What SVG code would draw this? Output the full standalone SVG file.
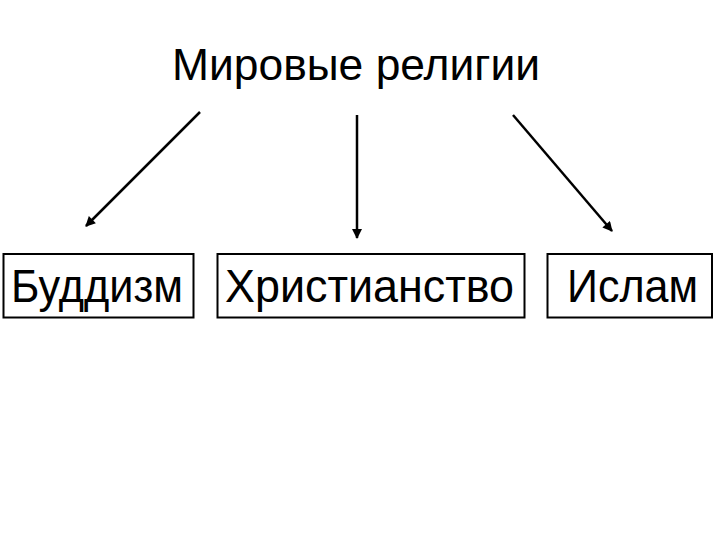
<svg xmlns="http://www.w3.org/2000/svg" width="720" height="540" viewBox="0 0 720 540">
<style>
  .box { fill: #ffffff; stroke: #000000; stroke-width: 2; }
  .lbl { font-family: "Liberation Sans", Arial, sans-serif; font-size: 47px; fill: #000000; }
  .title { font-family: "Liberation Sans", Arial, sans-serif; font-size: 45px; fill: #000000; }
  .conn { stroke: #000000; stroke-width: 2.5; fill: none; marker-end: url(#arrow); }
</style>
<defs>
  <marker id="arrow" viewBox="0 0 10 10" refX="9" refY="5" markerWidth="4.4" markerHeight="4" orient="auto" markerUnits="strokeWidth">
    <path d="M0,0 L10,5 L0,10 z" fill="#000000"/>
  </marker>
</defs>
<rect width="720" height="540" fill="#ffffff"/>
<g id="title">
  <text class="title" x="172" y="80" textLength="368" lengthAdjust="spacingAndGlyphs">Мировые религии</text>
</g>
<g id="connectors">
  <line class="conn" x1="200" y1="112" x2="86" y2="226"/>
  <line class="conn" x1="357" y1="115" x2="357" y2="238"/>
  <line class="conn" x1="513" y1="115" x2="612" y2="231"/>
</g>
<g id="buddhism">
  <rect class="box" x="3.5" y="254" width="190" height="63.5"/>
  <text class="lbl" x="11" y="302" textLength="172" lengthAdjust="spacingAndGlyphs">Буддизм</text>
</g>
<g id="christianity">
  <rect class="box" x="217.5" y="254" width="307" height="63.5"/>
  <text class="lbl" x="225" y="302" textLength="289" lengthAdjust="spacingAndGlyphs">Христианство</text>
</g>
<g id="islam">
  <rect class="box" x="547.5" y="254" width="164.5" height="63.5"/>
  <text class="lbl" x="567" y="302" textLength="131" lengthAdjust="spacingAndGlyphs">Ислам</text>
</g>
</svg>
